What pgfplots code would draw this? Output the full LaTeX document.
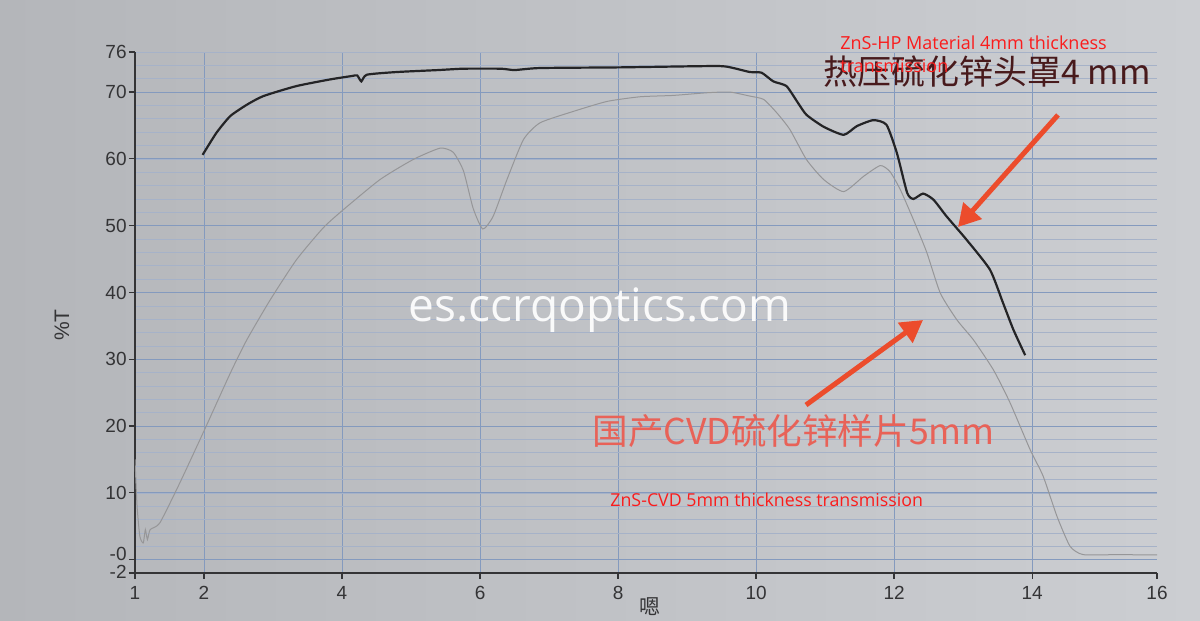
\documentclass[border=0pt]{standalone}
\usepackage{pgfplots}
\pgfplotsset{compat=1.18}
\usetikzlibrary{arrows.meta}
\usepackage{fontspec}
\setmainfont{Liberation Sans}
\newfontfamily\cjk{Noto Sans CJK SC}
\newfontfamily\osans{Open Sans}
\definecolor{paperA}{RGB}{180,182,186}
\definecolor{paperB}{RGB}{204,206,210}
\definecolor{gridmaj}{RGB}{132,154,190}
\definecolor{gridmin}{RGB}{166,178,200}
\definecolor{hpcol}{RGB}{36,36,38}
\definecolor{cvdcol}{RGB}{150,150,152}
\definecolor{annred}{RGB}{250,28,28}
\definecolor{arrowcol}{RGB}{236,76,44}
\definecolor{cnred}{RGB}{232,98,88}
\definecolor{maroon}{RGB}{72,26,28}
\definecolor{axcol}{RGB}{52,52,54}
\begin{document}
\begin{tikzpicture}
\shade[left color=paperA, right color=paperB] (0,0) rectangle (600pt,310.5pt);
\useasboundingbox (0,0) rectangle (600pt,310.5pt);
\begin{axis}[
  at={(67.5pt,24pt)}, anchor=south west,
  scale only axis, width=511pt, height=260.5pt,
  xmin=1, xmax=15.81, ymin=-2, ymax=76,
  axis x line*=bottom, axis y line*=left,
  axis line style={axcol, line width=0.7pt, -},
  tick style={axcol, line width=0.6pt},
  tick align=outside, major tick length=3pt, minor tick length=0pt,
  xtick={2,4,...,14}, xticklabels={2,4,6,8,10,12,14},
  extra x ticks={1,15.81}, extra x tick labels={1,16},
  extra x tick style={grid=none},
  ytick={0,10,...,70}, yticklabels={,10,20,30,40,50,60,70},
  extra y ticks={-2,76}, extra y tick labels={,76},
  extra y tick style={grid=none},
  minor ytick={2,4,...,76},
  grid=both,
  major grid style={gridmaj, line width=0.5pt},
  minor grid style={gridmin, line width=0.3pt},
  tick label style={font=\fontsize{9.5}{10}\selectfont, text=axcol},
  yticklabel style={inner xsep=1pt},
]
\addplot[cvdcol, line width=0.5pt, smooth, tension=0.35] coordinates {
(1.0,15.0) (1.03,8) (1.07,3.5) (1.12,2.5) (1.15,4.5) (1.18,3.0) (1.22,4.5)
(1.36,5.5) (1.65,11.5) (2.01,19.5) (2.38,27.9) (2.62,32.9) (2.96,38.9)
(3.34,44.9) (3.73,49.7) (4.02,52.4) (4.55,56.9) (5.03,59.9) (5.42,61.6)
(5.61,61.0) (5.76,58.2) (5.90,52.6) (6.04,49.5) (6.19,51.4) (6.39,56.9)
(6.63,62.9) (6.87,65.4) (7.35,67.1) (7.84,68.6) (8.32,69.3) (8.80,69.5)
(9.29,69.9) (9.62,70.0) (9.91,69.4) (10.11,68.9) (10.30,66.9) (10.49,64.4)
(10.73,59.9) (10.98,56.9) (11.27,55.1) (11.56,57.4) (11.80,59.0) (11.94,58.1)
(12.09,55.4) (12.28,50.9) (12.47,46.1) (12.67,39.9) (12.91,35.9) (13.15,32.9)
(13.44,28.4) (13.68,23.5) (13.97,16.5) (14.16,12.5) (14.36,6.5) (14.55,2.0)
(14.74,0.75) (15.23,0.75) (15.81,0.7)
};
\addplot[hpcol, line width=1.1pt, smooth, tension=0.35] coordinates {
(1.98,60.6) (2.18,63.9) (2.38,66.4) (2.62,68.1) (2.86,69.4) (3.34,70.9)
(3.83,71.9) (4.14,72.4) (4.22,72.5) (4.28,71.6) (4.36,72.6) (4.79,73.0)
(5.4,73.3) (5.76,73.5) (6.3,73.5) (6.5,73.3) (6.87,73.6) (8.03,73.7)
(9.43,73.9) (9.67,73.6) (9.91,73.0) (10.08,72.9) (10.25,71.6) (10.44,70.9)
(10.6,68.5) (10.73,66.6) (10.98,64.8) (11.27,63.6) (11.46,64.9) (11.70,65.8)
(11.89,65.1) (12.04,60.9) (12.19,54.9) (12.28,54.0) (12.42,54.8) (12.57,53.9)
(12.76,51.4) (13.05,47.9) (13.39,43.4) (13.58,38.4) (13.73,34.4) (13.90,30.6)
};
\end{axis}
\begin{scope}[x=0.5pt, y=-0.5pt, yshift=310.5pt]
\node[text=axcol, font=\fontsize{9.5}{10}\selectfont, anchor=east, inner sep=0pt] at (127,554) {-0};
\node[text=axcol, font=\fontsize{9.5}{10}\selectfont, anchor=east, inner sep=0pt] at (127,572) {-2};
\node[rotate=90, text=axcol, font=\fontsize{10.5}{12}\selectfont] at (62,325) {\%T};
\node[text=axcol, font=\cjk\fontsize{10.5}{12}\selectfont] at (650,607) {嗯};
\node[text=white, opacity=0.92, font=\osans\fontsize{23}{26}\selectfont, anchor=base, inner sep=0pt] at (600,322) {es.ccrqoptics.com};
\node[text=maroon, font=\cjk\fontsize{17}{20}\selectfont, anchor=base west, inner sep=0pt] at (823,85) {热压硫化锌头罩4 mm};
\node[text=annred, font=\osans\fontsize{9}{10}\selectfont, anchor=base west, inner sep=0pt] at (840,50) {ZnS-HP Material 4mm thickness};
\node[text=annred, font=\osans\fontsize{9}{10}\selectfont, anchor=base west, inner sep=0pt] at (840,72.7) {transmission};
\node[text=cnred, font=\cjk\fontsize{17.8}{20}\selectfont, anchor=base west, inner sep=0pt] at (592,445) {国产CVD硫化锌样片5mm};
\node[text=annred, font=\osans\fontsize{8.9}{10}\selectfont, anchor=base west, inner sep=0pt] at (610,507) {ZnS-CVD 5mm thickness transmission};
\draw[arrowcol, line width=2.5pt, -{Triangle[length=11pt,width=12pt]}] (1058,115) -- (958,227);
\draw[arrowcol, line width=2.5pt, -{Triangle[length=11pt,width=12pt]}] (806,405) -- (923,320);
\end{scope}
\end{tikzpicture}
\end{document}
